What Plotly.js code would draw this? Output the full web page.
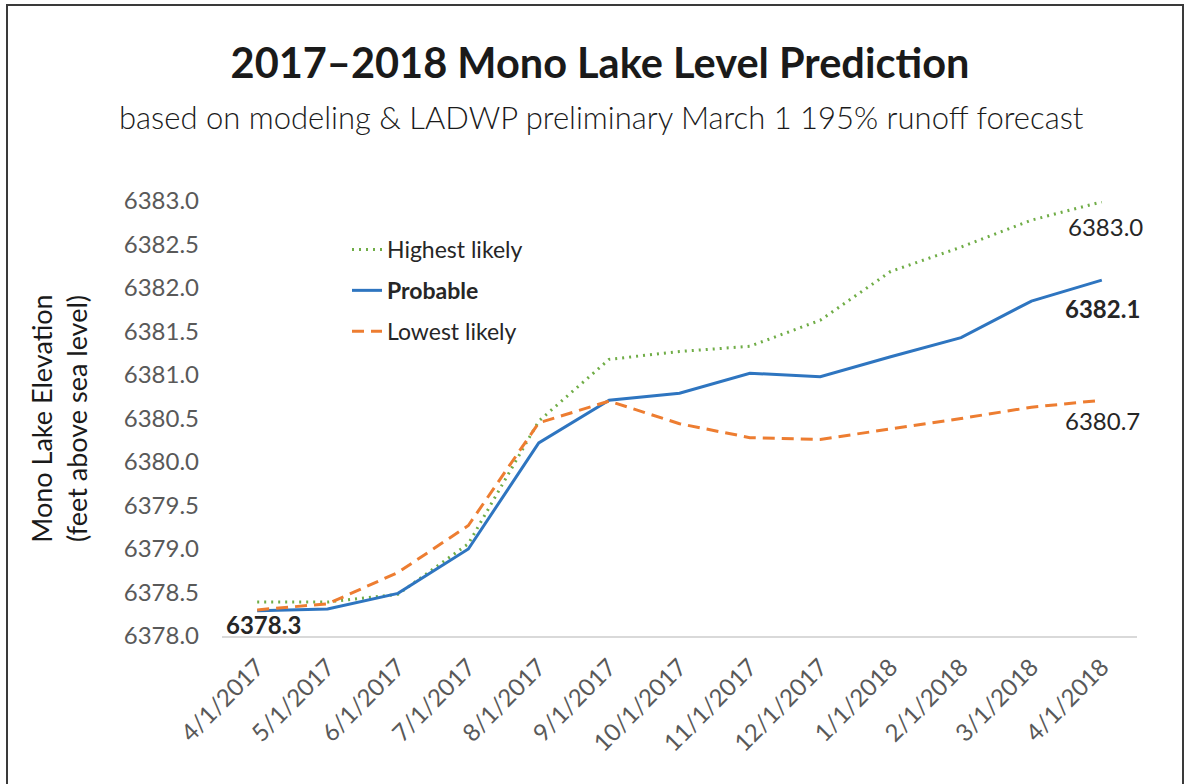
<!DOCTYPE html>
<html>
<head>
<meta charset="utf-8">
<script src="https://cdn.plot.ly/plotly-3.0.1.min.js"></script>
<style>
  html, body { margin: 0; padding: 0; background: #ffffff; }
  #chart { width: 1184px; height: 784px; }
  #frame { position: absolute; left: 6px; top: 4px; width: 1174px; height: 800px;
           border: 2px solid #3a3a3a; pointer-events: none; }
</style>
</head>
<body>
<div id="chart"></div>
<div id="frame"></div>
<script>
const dates = ["4/1/2017","5/1/2017","6/1/2017","7/1/2017","8/1/2017","9/1/2017","10/1/2017",
               "11/1/2017","12/1/2017","1/1/2018","2/1/2018","3/1/2018","4/1/2018"];
const highestLikely = [6378.39, 6378.39, 6378.48, 6379.06, 6380.47, 6381.18, 6381.27,
                       6381.33, 6381.63, 6382.19, 6382.47, 6382.78, 6382.99];
const probable      = [6378.29, 6378.31, 6378.49, 6379.00, 6380.22, 6380.71, 6380.79,
                       6381.02, 6380.98, 6381.21, 6381.43, 6381.85, 6382.09];
const lowestLikely  = [6378.30, 6378.37, 6378.73, 6379.27, 6380.45, 6380.70, 6380.44,
                       6380.28, 6380.26, 6380.38, 6380.50, 6380.63, 6380.71];
const yTicks = [6378.0, 6378.5, 6379.0, 6379.5, 6380.0, 6380.5, 6381.0, 6381.5, 6382.0, 6382.5, 6383.0];

const GREEN = "#70AD47", BLUE = "#2E75C0", ORANGE = "#ED7D31";
const last = dates.length - 1;

const traces = [
  { x: dates, y: highestLikely, type: "scatter", mode: "lines", name: "Highest likely",
    legendgroup: "h", line: { color: GREEN, width: 3, dash: "2px,5px" } },
  { x: dates, y: probable, type: "scatter", mode: "lines", name: "<b>Probable</b>",
    legendgroup: "p", line: { color: BLUE, width: 3 } },
  { x: dates, y: lowestLikely, type: "scatter", mode: "lines", name: "Lowest likely",
    legendgroup: "l", line: { color: ORANGE, width: 3, dash: "12px,7px" } }
];

const labFont = { family: "Lato, 'Open Sans', sans-serif", size: 24, color: "#262626" };
const annotations = [
  { text: "based on modeling &amp; LADWP preliminary March 1 195% runoff forecast",
    xref: "paper", yref: "paper", x: (601 - 222) / 915, y: (636 - 117) / 435,
    xanchor: "center", yanchor: "middle", showarrow: false,
    font: { family: "Lato, sans-serif", size: 31, color: "#1a1a1a", weight: 300 } },
  { text: "<b>" + probable[0].toFixed(1) + "</b>", x: dates[0], y: probable[0], xref: "x", yref: "y",
    showarrow: false, yshift: -14, xshift: 6, font: labFont },
  { text: highestLikely[last].toFixed(1), x: dates[last], y: highestLikely[last], xref: "x", yref: "y",
    showarrow: false, yshift: -25, xshift: 4, font: labFont },
  { text: "<b>" + probable[last].toFixed(1) + "</b>", x: dates[last], y: probable[last], xref: "x", yref: "y",
    showarrow: false, yshift: -28, xshift: 1, font: labFont },
  { text: lowestLikely[last].toFixed(1), x: dates[last], y: lowestLikely[last], xref: "x", yref: "y",
    showarrow: false, yshift: -20, xshift: 1, font: labFont }
];

const layout = {
  width: 1184, height: 784,
  paper_bgcolor: "#ffffff", plot_bgcolor: "#ffffff",
  margin: { l: 222, r: 47, t: 201, b: 148 },
  title: { text: "<b>2017–2018 Mono Lake Level Prediction</b>",
           x: 600 / 1184, xanchor: "center", y: 1 - 63 / 784, yanchor: "middle", yref: "container",
           font: { family: "Lato, sans-serif", size: 41.5, color: "#1a1a1a", weight: 900 } },
  showlegend: true,
  legend: { x: (347 - 222) / 915, y: (636 - 228) / 435, xanchor: "left", yanchor: "top",
            traceorder: "grouped", tracegroupgap: 8, bgcolor: "rgba(0,0,0,0)",
            font: { family: "Lato, sans-serif", size: 23, color: "#262626" } },
  xaxis: { type: "category", range: [-0.5, 12.5], tickangle: -45, showgrid: false,
           showline: true, linecolor: "#d9d9d9", linewidth: 1.5, ticks: "", zeroline: false,
           tickfont: { family: "Lato, sans-serif", size: 24, color: "#595959" }, ticklabelstandoff: 6 },
  yaxis: { range: [6378.0, 6383.0], tickvals: yTicks, ticktext: yTicks.map(v => v.toFixed(1)),
           showgrid: false, zeroline: false, showline: false, ticks: "",
           tickfont: { family: "Lato, sans-serif", size: 24, color: "#595959" }, ticklabelstandoff: 22,
           title: { text: "Mono Lake Elevation<br>(feet above sea level)", standoff: 28,
                    font: { family: "Lato, sans-serif", size: 27, color: "#1a1a1a" } } },
  annotations: annotations
};

Plotly.newPlot("chart", traces, layout, { displayModeBar: false, staticPlot: true });
</script>
</body>
</html>
